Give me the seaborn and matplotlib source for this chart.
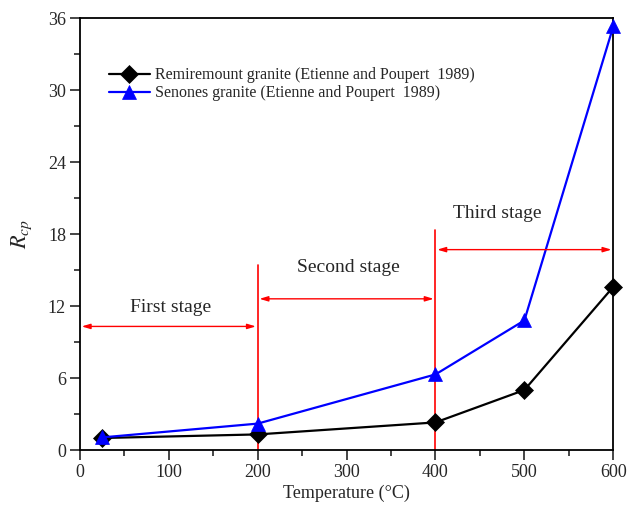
import matplotlib
matplotlib.use("Agg")
import matplotlib.pyplot as plt
import seaborn as sns
import pandas as pd
from matplotlib.ticker import MultipleLocator

temps = [25, 200, 400, 500, 600]
remiremont = [1.0, 1.3, 2.3, 5.0, 13.6]
senones = [1.05, 2.2, 6.3, 10.8, 35.3]
series_names = ["Remiremount granite (Etienne and Poupert  1989)",
                "Senones granite (Etienne and Poupert  1989)"]
x_ticks = [0, 100, 200, 300, 400, 500, 600]
y_ticks = [0, 6, 12, 18, 24, 30, 36]

sns.set_style("white")
plt.rcParams['font.family'] = ['Liberation Serif', 'DejaVu Serif']
plt.rcParams['mathtext.fontset'] = 'stix'

df = pd.DataFrame({
    "T": temps * 2,
    "R": remiremont + senones,
    "s": [series_names[0]] * len(temps) + [series_names[1]] * len(temps),
})

fig = plt.figure(figsize=(6.29, 5.07), dpi=100)
ax = fig.add_axes([0.127, 0.1124, 0.848, 0.852])

sns.lineplot(data=df, x="T", y="R", hue="s", style="s",
             palette={series_names[0]: "black", series_names[1]: "#0000ff"},
             markers={series_names[0]: "D", series_names[1]: "^"},
             dashes=False, markersize=9.5, linewidth=1.6, markeredgewidth=0.5,
             ax=ax, zorder=3, clip_on=False)
for ln in ax.lines:
    ln.set_markeredgecolor(ln.get_color())

ax.set_xlim(0, 600)
ax.set_ylim(0, 36)
ax.set_xticks(x_ticks)
ax.set_yticks(y_ticks)
ax.xaxis.set_minor_locator(MultipleLocator(50))
ax.yaxis.set_minor_locator(MultipleLocator(3))
ax.tick_params(axis='both', which='major', direction='out', length=7, width=1.2,
               labelsize=13, pad=3, bottom=True, left=True, top=False, right=False)
ax.tick_params(axis='both', which='minor', direction='out', length=4, width=1.2,
               bottom=True, left=True, top=False, right=False)
for sp in ax.spines.values():
    sp.set_linewidth(1.3)
    sp.set_color("black")

ax.set_xlabel("Temperature (°C)", fontsize=13, labelpad=3)
ax.set_ylabel(r"$R_{cp}$", fontsize=16, labelpad=10)

# stage markers
red = "#ff0000"
ax.plot([200, 200], [0, 15.4], color=red, lw=1.2, zorder=2)
ax.plot([400, 400], [0, 18.3], color=red, lw=1.2, zorder=2)
arrow = dict(arrowstyle="<|-|>,head_length=0.5,head_width=0.15", color=red, lw=1.0,
             shrinkA=0, shrinkB=0)
ax.annotate("", xy=(2, 10.3), xytext=(198, 10.3), arrowprops=arrow)
ax.annotate("", xy=(202, 12.6), xytext=(398, 12.6), arrowprops=arrow)
ax.annotate("", xy=(402, 16.7), xytext=(598, 16.7), arrowprops=arrow)
ax.text(102, 11.9, "First stage", ha="center", va="center", fontsize=14)
ax.text(302, 15.2, "Second stage", ha="center", va="center", fontsize=14)
ax.text(469, 19.75, "Third stage", ha="center", va="center", fontsize=14)

leg = ax.legend(loc="upper left", bbox_to_anchor=(0.054, 0.886), frameon=False,
                fontsize=11.5, handlelength=2.6, handletextpad=0.3,
                labelspacing=0.12, borderaxespad=0, borderpad=0)
for h in leg.legend_handles:
    h.set_markeredgecolor(h.get_color())

fig.savefig("out.png", dpi=100)
